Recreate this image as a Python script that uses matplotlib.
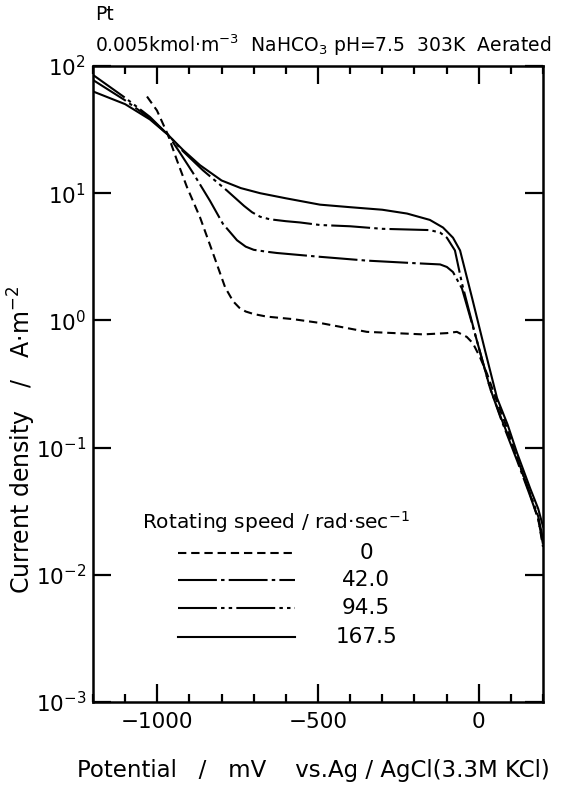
import numpy as np
import matplotlib
matplotlib.use("Agg")
import matplotlib.pyplot as plt
from matplotlib.ticker import MultipleLocator, NullLocator

plt.rcParams["font.family"] = ["DejaVu Sans"]
plt.rcParams["lines.scale_dashes"] = False

# potential (mV vs Ag/AgCl) and log10 of current density (A/m2)
pot_0 = [-1032, -1001, -967, -939, -908, -867, -827, -789, -764, -745, -725, -700, -660,
         -578, -494, -348, -173, -99, -68, -37, -18, 4, 26, 57, 90, 119, 160, 185, 200]
logj_0 = [1.76, 1.65, 1.46, 1.26, 1.05, 0.81, 0.53, 0.26, 0.15, 0.10, 0.07, 0.05, 0.03,
          0.01, -0.02, -0.09, -0.11, -0.10, -0.09, -0.13, -0.18, -0.29, -0.42, -0.64, -0.86,
          -1.08, -1.37, -1.56, -1.78]

pot_42 = [-1200, -1100, -1023, -967, -930, -889, -836, -796, -752, -725, -700, -660, -628,
          -494, -348, -200, -120, -99, -80, -52, -10, 35, 70, 119, 160, 185, 200]
logj_42 = [1.89, 1.73, 1.59, 1.46, 1.32, 1.16, 0.94, 0.76, 0.63, 0.58, 0.555, 0.54, 0.53,
           0.50, 0.47, 0.45, 0.44, 0.42, 0.38, 0.25, -0.12, -0.53, -0.78, -1.10, -1.38, -1.56, -1.76]

pot_94 = [-1200, -1100, -1023, -967, -920, -858, -783, -730, -705, -680, -650, -600, -556,
          -494, -400, -300, -152, -120, -99, -74, -52, -10, 35, 70, 119, 160, 185, 200]
logj_94 = [1.93, 1.75, 1.60, 1.46, 1.33, 1.18, 1.02, 0.90, 0.85, 0.815, 0.795, 0.78, 0.77,
           0.75, 0.74, 0.72, 0.71, 0.69, 0.65, 0.55, 0.29, -0.12, -0.53, -0.77, -1.08, -1.36, -1.54, -1.72]

pot_167 = [-1200, -1100, -1023, -967, -920, -867, -800, -740, -680, -600, -494, -400,
           -300, -223, -152, -111, -80, -58, -20, 20, 57, 90, 119, 160, 185, 200]
logj_167 = [1.80, 1.70, 1.58, 1.46, 1.34, 1.22, 1.10, 1.04, 1.00, 0.96, 0.91, 0.89,
            0.87, 0.84, 0.79, 0.73, 0.65, 0.55, 0.17, -0.24, -0.61, -0.82, -1.04, -1.32, -1.48, -1.62]

speed_labels = ["0", "42.0", "94.5", "167.5"]
ytick_vals = [1e-3, 1e-2, 1e-1, 1e0, 1e1, 1e2]
ytick_labels = [r"$10^{-3}$", r"$10^{-2}$", r"$10^{-1}$", r"$10^{0}$", r"$10^{1}$", r"$10^{2}$"]
xtick_vals = [-1000, -500, 0]

series = [(pot_0, logj_0), (pot_42, logj_42), (pot_94, logj_94), (pot_167, logj_167)]
styles = [(0, (6, 3.5)),
          (0, (28, 3, 2.5, 3)),
          (0, (28, 3, 2.5, 3, 2.5, 3)),
          "-"]

W, H = 566, 786
fig = plt.figure(figsize=(W / 100, H / 100), dpi=100)
ax = fig.add_axes([93 / W, 84 / H, 450 / W, 636 / H])

for (x, lj), ls in zip(series, styles):
    ax.plot(x, 10 ** np.array(lj), color="black", lw=1.5, ls=ls)

ax.set_yscale("log")
ax.set_xlim(-1200, 200)
ax.set_ylim(1e-3, 1e2)
ax.set_xticks(xtick_vals)
ax.xaxis.set_minor_locator(MultipleLocator(100))
ax.set_yticks(ytick_vals)
ax.set_yticklabels(ytick_labels)
ax.yaxis.set_minor_locator(NullLocator())
ax.tick_params(which="both", direction="in", top=True, right=True, width=1.6,
               labelsize=15.5, colors="black")
ax.tick_params(which="major", length=13)
ax.tick_params(which="minor", length=6)
ax.tick_params(axis="x", which="major", pad=7)
ax.tick_params(axis="y", which="major", pad=5)
for s in ax.spines.values():
    s.set_linewidth(1.8)

# legend, drawn by hand like the original
leg_y = [0.234, 0.192, 0.148, 0.102]
for yy, ls, lab in zip(leg_y, styles, speed_labels):
    ax.plot([0.189, 0.449], [yy, yy], transform=ax.transAxes, color="black", lw=1.5, ls=ls)
    ax.text(0.607, yy, lab, transform=ax.transAxes, ha="center", va="center", fontsize=15.5)
ax.text(0.109, 0.283, "Rotating speed / rad·sec$^{-1}$", transform=ax.transAxes,
        ha="left", va="center", fontsize=14.5)

fig.text(95 / W, 1 - 15 / H, "Pt", ha="left", va="center", fontsize=13.5)
fig.text(95 / W, 1 - 45 / H,
         "0.005kmol·m$^{-3}$  NaHCO$_3$ pH=7.5  303K  Aerated",
         ha="left", va="center", fontsize=13.5)
fig.text(22 / W, 1 - 440 / H, "Current density   /   A·m$^{-2}$", rotation=90,
         ha="center", va="center", fontsize=17)
fig.text(313 / W, 1 - 770 / H, "Potential   /   mV    vs.Ag / AgCl(3.3M KCl)",
         ha="center", va="center", fontsize=16.5)

fig.savefig("out.png", dpi=100, facecolor="white")
